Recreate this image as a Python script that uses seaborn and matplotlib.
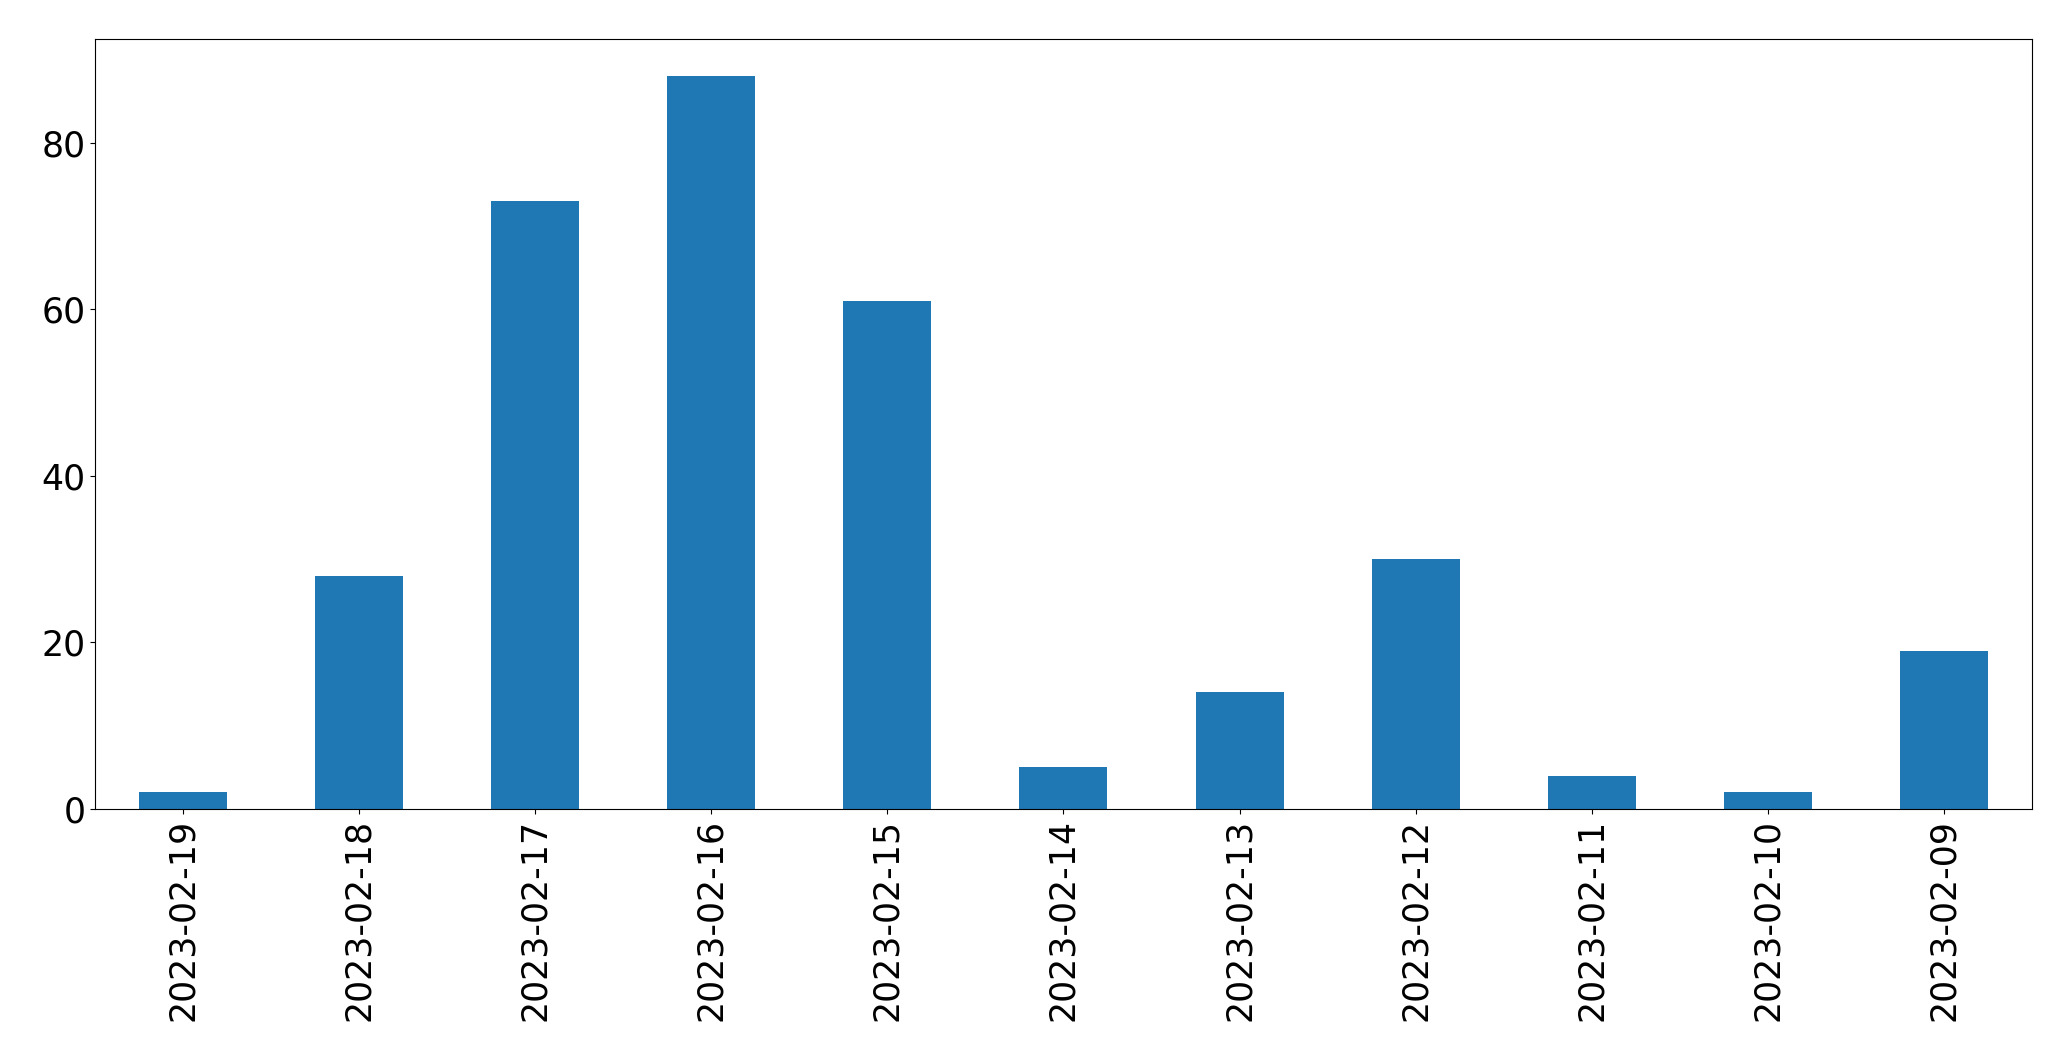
import pandas as pd
import matplotlib.pyplot as plt
import seaborn as sns

dates = ["2023-02-19", "2023-02-18", "2023-02-17", "2023-02-16", "2023-02-15",
         "2023-02-14", "2023-02-13", "2023-02-12", "2023-02-11", "2023-02-10",
         "2023-02-09"]
counts = [2, 28, 73, 88, 61, 5, 14, 30, 4, 2, 19]

df = pd.DataFrame({"date": dates, "count": counts})

fig = plt.figure(figsize=(20.71, 10.61), dpi=100)
ax = fig.add_axes([0.0459, 0.2375, 0.9352, 0.7255])
sns.barplot(data=df, x="date", y="count", order=dates, color="#1f77b4",
            saturation=1, width=0.5, ax=ax)
ax.set_xlim(-0.5, len(dates) - 0.5)
ax.set_ylim(0, max(counts) * 1.05)
ax.set_xlabel("")
ax.set_ylabel("")
ax.tick_params(axis="both", labelsize=25)
ax.tick_params(axis="x", labelrotation=90)
fig.savefig("out.png", dpi=100)
